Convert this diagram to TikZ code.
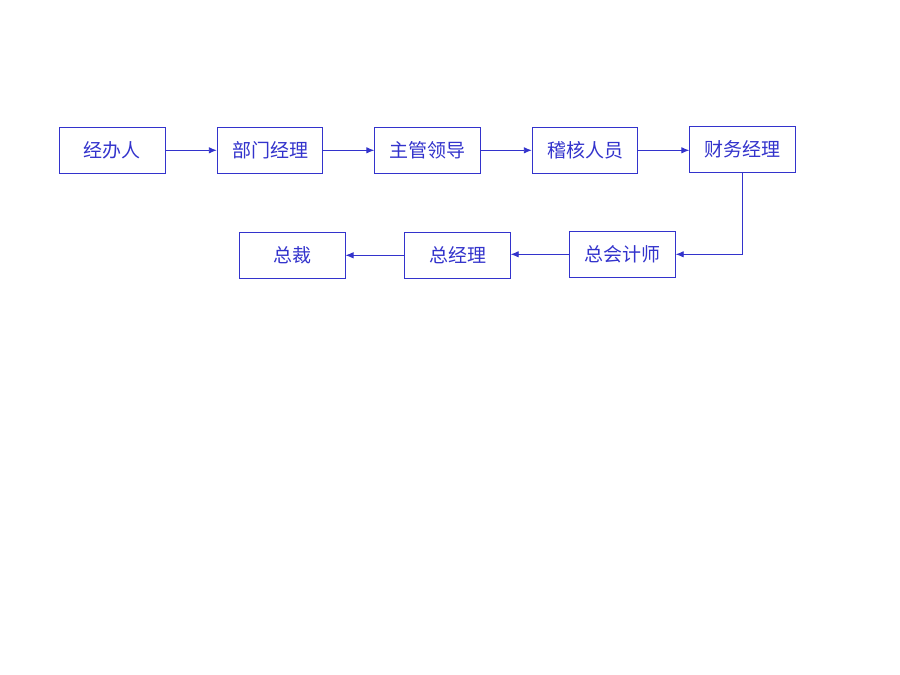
\documentclass[tikz,border=0pt]{standalone}
\usepackage{fontspec}
\newfontfamily\cjk{Noto Sans CJK SC}
\usetikzlibrary{arrows.meta}
\definecolor{flowblue}{HTML}{3333CC}
\begin{document}
\begin{tikzpicture}[x=1pt,y=-1pt,
  box/.style={draw=flowblue, line width=0.9pt, minimum width=105.5pt, minimum height=46pt, inner sep=0pt,
    font=\cjk\fontsize{19}{22}\selectfont, text=flowblue},
  conn/.style={draw=flowblue, line width=0.9pt, -{Latex[length=8pt,width=6.5pt]}}]
\useasboundingbox[fill=white] (0,0) rectangle (900,675);
\node[box] (a) at (112.3,150.3) {\raisebox{-1.5pt}{经办人}};
\node[box] (b) at (270,150.3) {\raisebox{-1.5pt}{部门经理}};
\node[box] (c) at (427.5,150.3) {\raisebox{-1.5pt}{主管领导}};
\node[box] (d) at (585,150.3) {\raisebox{-1.5pt}{稽核人员}};
\node[box] (e) at (742.5,149.3) {\raisebox{-1.5pt}{财务经理}};
\node[box] (f) at (622.5,254.3) {\raisebox{-1.5pt}{总会计师}};
\node[box] (g) at (457.5,255.3) {\raisebox{-1.5pt}{总经理}};
\node[box] (h) at (292.3,255.3) {\raisebox{-1.5pt}{总裁}};
\draw[conn] (a) -- (b);
\draw[conn] (b) -- (c);
\draw[conn] (c) -- (d);
\draw[conn] (d.east) -- (d.east -| e.west);
\draw[conn] (e.south) |- (f.east);
\draw[conn] (f.west) -- (f.west -| g.east);
\draw[conn] (g) -- (h);
\end{tikzpicture}
\end{document}
